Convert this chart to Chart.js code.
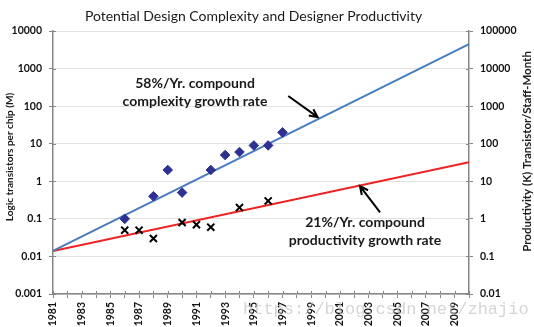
<!DOCTYPE html>
<html>
<head>
<meta charset="utf-8">
<script src="https://cdn.jsdelivr.net/npm/chart.js@4/dist/chart.umd.min.js"></script>
<style>
  body { margin: 0; background: #fff; }
</style>
</head>
<body>
<canvas id="designChart" width="534" height="327"></canvas>
<script>
// trend lines: first and last year of the axis
const trendYears = [1981, 2010]
const complexityTrend = [0.014, 4500]   // M transistors per chip
const productivityTrend = [0.14, 32]    // K transistors / staff-month

// measured points
const chipYears = [1986, 1988, 1989, 1990, 1992, 1993, 1994, 1995, 1996, 1997]
const chipTransistors = [0.1, 0.4, 2, 0.5, 2, 5, 6, 9, 9, 20]
const staffYears = [1986, 1987, 1988, 1990, 1991, 1992, 1994, 1996]
const staffProductivity = [0.5, 0.5, 0.3, 0.8, 0.7, 0.6, 2, 3]

// tick values
const leftTicks = [0.001, 0.01, 0.1, 1, 10, 100, 1000, 10000]
const rightTicks = [0.01, 0.1, 1, 10, 100, 1000, 10000, 100000]

const FONT = 'Lato'
const axisGrey = '#868686'

const points = (xs, ys) => xs.map((x, i) => ({ x: x, y: ys[i] }))

// callouts, placed in axis units
const callouts = [
  {
    lines: ['58%/Yr. compound', 'complexity growth rate'],
    x: 1990.9, y: 390, axis: 'y',
    arrow: { from: [1997.4, 186], to: [1999.45, 51] }
  },
  {
    lines: ['21%/Yr. compound', 'productivity growth rate'],
    x: 2002.75, y: 0.81, axis: 'y2',
    arrow: { from: [2003.8, 1.48], to: [2002.4, 7.4] }
  }
]

// chart title and the two axis titles (drawn by hand so they can sit off-centre)
const headings = {
  id: 'headings',
  afterDraw(chart) {
    const ctx = chart.ctx
    ctx.save()
    ctx.fillStyle = '#1a1a1a'
    ctx.textAlign = 'center'
    ctx.textBaseline = 'middle'
    ctx.font = '14px ' + FONT
    ctx.fillText('Potential Design Complexity and Designer Productivity', 253.5, 16)

    ctx.font = 'bold 10px ' + FONT
    ctx.translate(10, 157)
    ctx.rotate(-Math.PI / 2)
    ctx.fillText('Logic transistors per chip (M)', 0, 0)
    ctx.setTransform(1, 0, 0, 1, 0, 0)

    ctx.font = 'bold 11.5px ' + FONT
    ctx.translate(527, 151.5)
    ctx.rotate(-Math.PI / 2)
    ctx.fillText('Productivity (K) Transistor/Staff-Month', 0, 0)
    ctx.restore()
  }
}

// Excel style "cross" tick marks: add the half that sits inside the plot
const crossTicks = {
  id: 'crossTicks',
  afterDraw(chart) {
    const ctx = chart.ctx
    const { x, y, y2 } = chart.scales
    ctx.save()
    ctx.strokeStyle = axisGrey
    ctx.lineWidth = 1
    x.ticks.forEach(t => {
      const px = Math.round(x.getPixelForValue(t.value)) + 0.5
      ctx.beginPath(); ctx.moveTo(px, y.bottom); ctx.lineTo(px, y.bottom - 3); ctx.stroke()
    })
    y.ticks.forEach(t => {
      const py = Math.round(y.getPixelForValue(t.value)) + 0.5
      ctx.beginPath(); ctx.moveTo(x.left, py); ctx.lineTo(x.left + 3, py); ctx.stroke()
    })
    y2.ticks.forEach(t => {
      const py = Math.round(y2.getPixelForValue(t.value)) + 0.5
      ctx.beginPath(); ctx.moveTo(x.right, py); ctx.lineTo(x.right - 3, py); ctx.stroke()
    })
    ctx.restore()
  }
}

const calloutPlugin = {
  id: 'callouts',
  afterDraw(chart) {
    const ctx = chart.ctx
    const xs = chart.scales.x
    ctx.save()
    callouts.forEach(c => {
      const ys = chart.scales[c.axis]
      ctx.font = 'bold 14px ' + FONT
      ctx.fillStyle = '#1a1a1a'
      ctx.textAlign = 'center'
      ctx.textBaseline = 'middle'
      const cx = xs.getPixelForValue(c.x)
      const cy = ys.getPixelForValue(c.y)
      c.lines.forEach((l, i) => ctx.fillText(l, cx, cy + i * 18))

      const x1 = xs.getPixelForValue(c.arrow.from[0]), y1 = ys.getPixelForValue(c.arrow.from[1])
      const x2 = xs.getPixelForValue(c.arrow.to[0]), y2 = ys.getPixelForValue(c.arrow.to[1])
      const a = Math.atan2(y2 - y1, x2 - x1)
      ctx.strokeStyle = '#000'
      ctx.lineWidth = 2
      ctx.beginPath()
      ctx.moveTo(x1, y1); ctx.lineTo(x2, y2)
      ctx.moveTo(x2 - 9 * Math.cos(a - 0.45), y2 - 9 * Math.sin(a - 0.45))
      ctx.lineTo(x2, y2)
      ctx.lineTo(x2 - 9 * Math.cos(a + 0.45), y2 - 9 * Math.sin(a + 0.45))
      ctx.stroke()
    })

    // blog watermark
    ctx.font = '17px "Liberation Mono"'
    ctx.fillStyle = 'rgba(195,195,195,0.7)'
    ctx.textAlign = 'left'
    ctx.textBaseline = 'middle'
    ctx.fillText('https://blog.csdn.net/zhajio', 243, 309)
    ctx.restore()
  }
}

const logAxis = (values, position, width, grid) => ({
  type: 'logarithmic',
  position: position,
  min: values[0],
  max: values[values.length - 1],
  afterBuildTicks: scale => { scale.ticks = values.map(v => ({ value: v })) },
  afterFit: scale => { scale.width = width },
  ticks: {
    padding: 7,
    color: '#111',
    font: { family: FONT, size: 10.5, weight: 'bold' },
    callback: v => String(v)
  },
  grid: {
    display: true,
    drawOnChartArea: grid,
    color: '#e2e2e2',
    tickColor: axisGrey,
    tickLength: 4
  },
  border: { color: axisGrey, width: 1.5 }
})

new Chart(document.getElementById('designChart'), {
  type: 'scatter',
  data: {
    datasets: [
      {
        label: 'Complexity trend',
        data: points(trendYears, complexityTrend),
        yAxisID: 'y',
        showLine: true,
        borderColor: '#4a7ebb',
        borderWidth: 2,
        pointRadius: 0,
        order: 2
      },
      {
        label: 'Productivity trend',
        data: points(trendYears, productivityTrend),
        yAxisID: 'y2',
        showLine: true,
        borderColor: '#ee2222',
        borderWidth: 2,
        pointRadius: 0,
        order: 2
      },
      {
        label: 'Logic transistors per chip',
        data: points(chipYears, chipTransistors),
        yAxisID: 'y',
        pointStyle: 'rectRot',
        pointRadius: 4.8,
        backgroundColor: '#2e3192',
        borderColor: '#2e3192',
        borderWidth: 1,
        order: 1
      },
      {
        label: 'Productivity',
        data: points(staffYears, staffProductivity),
        yAxisID: 'y2',
        pointStyle: 'crossRot',
        pointRadius: 5,
        borderColor: '#000',
        borderWidth: 2,
        order: 1
      }
    ]
  },
  options: {
    responsive: false,
    animation: false,
    layout: { padding: { top: 31 } },
    plugins: {
      legend: { display: false },
      tooltip: { enabled: false },
      title: { display: false }
    },
    scales: {
      x: {
        type: 'linear',
        min: 1981,
        max: 2010,
        afterFit: scale => { scale.height = 33 },
        ticks: {
          stepSize: 1,
          autoSkip: false,
          minRotation: 90,
          maxRotation: 90,
          padding: 4,
          color: '#111',
          font: { family: FONT, size: 10.5, weight: 'bold' },
          callback: v => (v % 2 === 1 ? String(v) : '')
        },
        grid: {
          drawOnChartArea: false,
          tickColor: axisGrey,
          tickLength: 4
        },
        border: { color: axisGrey, width: 1.5 }
      },
      y: logAxis(leftTicks, 'left', 53, true),
      y2: logAxis(rightTicks, 'right', 65, false)
    }
  },
  plugins: [crossTicks, calloutPlugin, headings]
})
</script>
</body>
</html>
